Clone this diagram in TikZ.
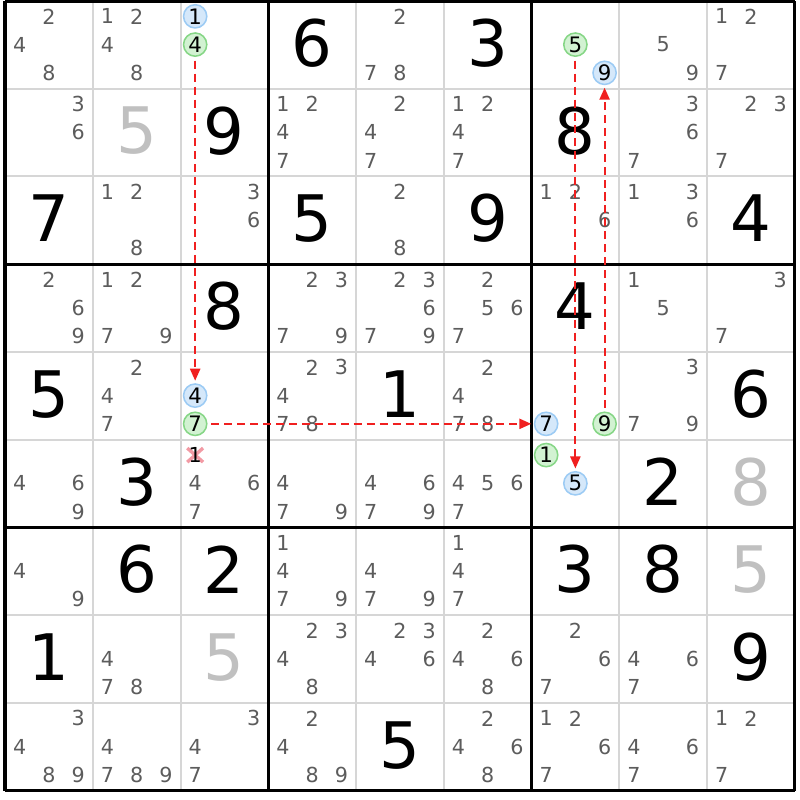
\documentclass[tikz,border=0pt]{standalone}
\usepackage{fontspec}
\setmainfont{DejaVu Sans}
\usetikzlibrary{arrows.meta}
\definecolor{candgray}{HTML}{5C5C5C}
\definecolor{solvedgray}{HTML}{C0C0C0}
\definecolor{gridgray}{HTML}{D6D6D6}
\definecolor{blueon}{HTML}{D5E8FA}
\definecolor{blueline}{HTML}{9CCBF4}
\definecolor{greenon}{HTML}{D2F2D2}
\definecolor{greenline}{HTML}{86D686}
\definecolor{linkred}{HTML}{F02020}
\definecolor{crossred}{HTML}{F29AA4}

\begin{document}
\begin{tikzpicture}[x=1cm, y=-1cm,
given/.style = {font=\fontsize{20.8pt}{21pt}\selectfont, inner sep=0pt},
cand/.style = {font=\fontsize{6.7pt}{7pt}\selectfont, text=candgray,
            inner sep=0pt},
hl/.style = {circle, draw=#1line, fill=#1on, line width=0.5pt,
            minimum size=0.265cm, inner sep=0pt, text=black,
            font=\fontsize{6.9pt}{7pt}\selectfont},
link/.style = {draw=linkred, dash pattern=on 2.6pt off 1.6pt,
            line width=0.6pt, -{Triangle[length=3.9pt,width=3.3pt]},
            shorten >=0.8pt, shorten <=1.2pt}
                ]
    \useasboundingbox (-0.057,-0.011) rectangle (9.06,9.105);

    % board
    \foreach \i in {1,2,4,5,7,8}{
        \draw [gridgray, line width=0.65pt] (\i,0) -- (\i,9);
        \draw [gridgray, line width=0.65pt] (0,\i) -- (9,\i);
    }
    \foreach \i in {0,3,6,9}{
        \draw [black, line width=1pt] (\i,0) -- (\i,9);
        \draw [black, line width=1pt] (0,\i) -- (9,\i);
    }

    % givens and solved cells
    \foreach \row/\col/\v in {0/3/6, 0/5/3, 1/2/9, 1/6/8, 2/0/7, 2/3/5, 2/5/9,
        2/8/4, 3/2/8, 3/6/4, 4/0/5, 4/4/1, 4/8/6, 5/1/3, 5/7/2, 6/1/6, 6/2/2,
        6/6/3, 6/7/8, 7/0/1, 7/8/9, 8/4/5}
        \node[given] at (\col+0.5,\row+0.48) (g\row\col) {\v};
    \foreach \row/\col/\v in {1/1/5, 5/8/8, 6/8/5, 7/2/5}
        \node[given, text=solvedgray] at (\col+0.5,\row+0.48) (g\row\col) {\v};

    % candidates
    \foreach \row/\col/\ds in {0/0/{2,4,8}, 0/1/{1,2,4,8}, 0/4/{2,7,8},
        0/7/{5,9}, 0/8/{1,2,7}, 1/0/{3,6}, 1/3/{1,2,4,7}, 1/4/{2,4,7},
        1/5/{1,2,4,7}, 1/7/{3,6,7}, 1/8/{2,3,7}, 2/1/{1,2,8}, 2/2/{3,6},
        2/4/{2,8}, 2/6/{1,2,6}, 2/7/{1,3,6}, 3/0/{2,6,9}, 3/1/{1,2,7,9},
        3/3/{2,3,7,9}, 3/4/{2,3,6,7,9}, 3/5/{2,5,6,7}, 3/7/{1,5}, 3/8/{3,7},
        4/1/{2,4,7}, 4/3/{2,3,4,7,8}, 4/5/{2,4,7,8}, 4/7/{3,7,9},
        5/0/{4,6,9}, 5/2/{4,6,7}, 5/3/{4,7,9}, 5/4/{4,6,7,9}, 5/5/{4,5,6,7},
        6/0/{4,9}, 6/3/{1,4,7,9}, 6/4/{4,7,9}, 6/5/{1,4,7},
        7/1/{4,7,8}, 7/3/{2,3,4,8}, 7/4/{2,3,4,6}, 7/5/{2,4,6,8},
        7/6/{2,6,7}, 7/7/{4,6,7}, 8/0/{3,4,8,9}, 8/1/{4,7,8,9}, 8/2/{3,4,7},
        8/3/{2,4,8,9}, 8/5/{2,4,6,8}, 8/6/{1,2,6,7}, 8/7/{4,6,7}, 8/8/{1,2,7}}
        \foreach \dig in \ds {
            \pgfmathsetmacro\cx{\col+0.167+0.333*mod(\dig-1,3)}
            \pgfmathsetmacro\cy{\row+0.175+0.322*int((\dig-1)/3)}
            \node[cand] at (\cx,\cy) (c\row\col\dig) {\dig};
        }

    % eliminated candidate
    \coordinate (x521) at (2.167,5.175);
    \draw [crossred, line width=1.1pt] ([shift={(-0.09,-0.08)}]x521)
        -- ([shift={(0.09,0.08)}]x521);
    \draw [crossred, line width=1.1pt] ([shift={(-0.09,0.08)}]x521)
        -- ([shift={(0.09,-0.08)}]x521);
    \node[cand, text=black] at (x521) (c521) {1};

    % chain
    \foreach \row/\col/\dig/\h in {0/2/1/blue, 0/2/4/green, 4/2/4/blue,
        4/2/7/green, 4/6/7/blue, 4/6/9/green, 5/6/1/green, 5/6/5/blue,
        0/6/5/green, 0/6/9/blue}{
        \pgfmathsetmacro\cx{\col+0.167+0.333*mod(\dig-1,3)}
        \pgfmathsetmacro\cy{\row+0.175+0.322*int((\dig-1)/3)}
        \node[hl=\h] at (\cx,\cy) (c\row\col\dig) {\dig};
    }
    \draw [link] (c024) -- (c424);
    \draw [link] (c427) -- (c467);
    \draw [link] (c065) -- (c565);
    \draw [link] (c469) -- (c069);
\end{tikzpicture}
\end{document}
